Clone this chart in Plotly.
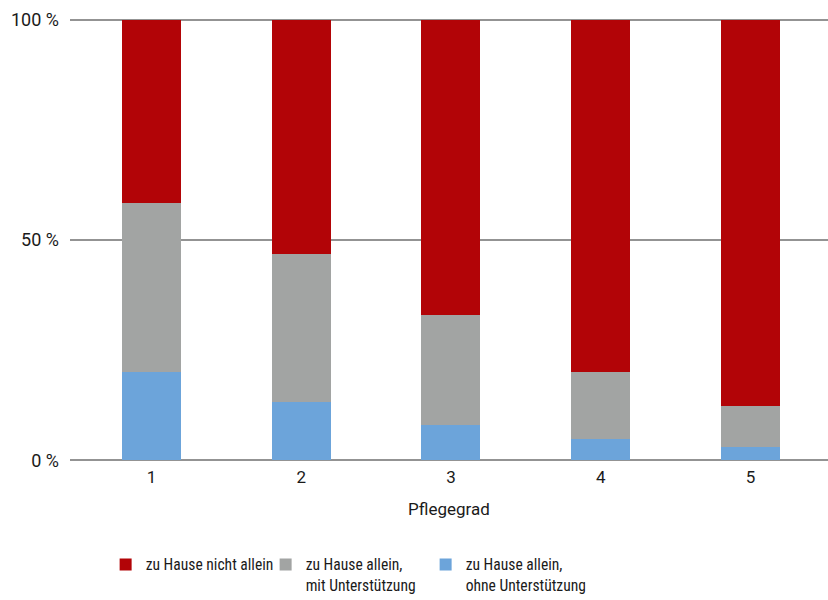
import plotly.graph_objects as go

# Pflegegrad categories and shares (percent) per living situation
pflegegrad = ["1", "2", "3", "4", "5"]
ohne_unterstuetzung = [20.0, 13.2, 8.0, 4.8, 3.0]
mit_unterstuetzung = [38.5, 33.7, 25.0, 15.3, 9.3]
nicht_allein = [41.5, 53.1, 67.0, 79.9, 87.7]

y_ticks = [0, 50, 100]
y_tick_labels = ["0 %", "50 %", "100 %"]

series = [
    ("zu Hause allein,<br>ohne Unterstützung", ohne_unterstuetzung, "#6CA4DA", 3),
    ("zu Hause allein,<br>mit Unterstützung", mit_unterstuetzung, "#A2A4A3", 2),
    ("zu Hause nicht allein", nicht_allein, "#B20407", 1),
]

fig = go.Figure()
for name, values, color, rank in series:
    fig.add_trace(go.Bar(
        x=pflegegrad, y=values, name=name,
        marker=dict(color=color, line=dict(width=0)),
        width=0.394, legendrank=rank,
    ))

font_narrow = "Roboto Condensed, Arial Narrow, Liberation Sans Narrow, DejaVu Sans Condensed, sans-serif"

fig.update_layout(
    barmode="stack",
    width=828, height=600,
    margin=dict(l=70, r=0, t=17, b=137, autoexpand=False),
    plot_bgcolor="white", paper_bgcolor="white",
    font=dict(family="Roboto, sans-serif", size=18, color="#1a1a1a"),
    showlegend=True,
    legend=dict(
        orientation="h", x=0.047, xanchor="left", y=-0.19, yanchor="top",
        traceorder="normal", valign="top",
        entrywidth=115, entrywidthmode="pixels",
        font=dict(family=font_narrow, size=15.6),
    ),
    xaxis=dict(
        type="category", range=[-0.544, 4.518],
        showgrid=False, zeroline=False, showline=False, ticks="",
        ticklabelstandoff=2,
        tickfont=dict(size=17),
        title=dict(text="Pflegegrad", standoff=17, font=dict(size=17)),
    ),
    yaxis=dict(
        range=[-0.6, 100.6], tickvals=y_ticks, ticktext=y_tick_labels,
        showgrid=True, gridcolor="#939393", gridwidth=1.5,
        zeroline=False, showline=False, ticks="",
        ticklabelstandoff=10,
        tickfont=dict(size=18),
    ),
)

fig.write_html("out.html")
